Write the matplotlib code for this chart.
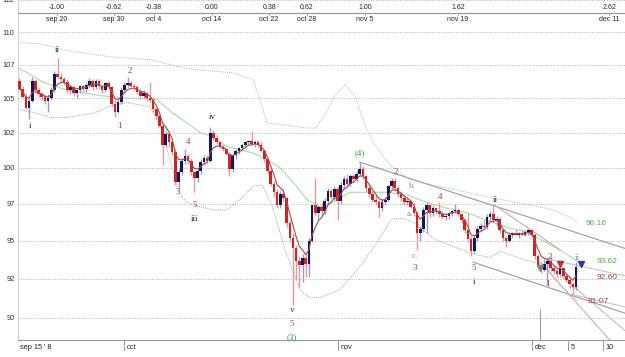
import numpy as np
import pandas as pd
import matplotlib
matplotlib.use('Agg')
import matplotlib.pyplot as plt
import matplotlib.transforms as mtransforms
from matplotlib.ticker import NullLocator

# 8-hour bars, index 0 = sep 15 '08
opens = [106.3, 105.7, 105.1, 104.3, 104.8, 106.3, 105.6, 105.3, 105.1, 104.8,
         105.0, 105.6, 106.8, 106.6, 106.4, 106.2, 105.6, 105.8, 105.4, 105.6,
         105.9, 105.7, 106.0, 106.3, 105.8, 106.3, 105.9, 105.6, 106.1, 105.8,
         104.6, 104.0, 104.7, 105.6, 106.0, 106.1, 105.9, 105.8, 105.5, 105.2,
         105.4, 105.0, 104.9, 104.2, 103.7, 103.0, 101.6, 102.4, 101.8, 101.1,
         99.0, 99.7, 100.5, 100.8, 100.5, 99.7, 99.3, 99.8, 100.4, 100.7,
         100.5, 102.5, 102.1, 101.8, 101.5, 101.3, 101.0, 99.9, 100.9, 101.2,
         101.4, 101.6, 101.8, 101.9, 101.7, 101.8, 101.6, 101.2, 100.6, 99.8,
         98.9, 98.3, 97.4, 98.2, 97.9, 96.2, 95.2, 94.5, 93.7, 93.4,
         93.9, 93.5, 95.0, 97.4, 96.9, 97.3, 97.0, 97.7, 98.4, 98.0,
         98.5, 97.7, 98.8, 99.2, 98.9, 99.4, 99.2, 99.6, 99.9, 99.4,
         98.6, 98.2, 97.8, 97.6, 97.2, 97.6, 97.8, 98.7, 99.1, 98.6,
         98.2, 97.9, 97.6, 97.7, 97.3, 96.9, 95.5, 95.8, 97.1, 97.4,
         96.9, 97.2, 97.0, 96.8, 96.6, 96.7, 96.9, 97.0, 97.1, 96.8,
         96.4, 95.7, 95.1, 94.3, 95.2, 95.8, 96.0, 95.9, 96.6, 96.8,
         96.4, 96.5, 95.7, 95.2, 95.0, 95.4, 95.5, 95.4, 95.5, 95.4,
         95.6, 95.7, 95.4, 94.0, 93.4, 93.1, 93.5, 93.7, 93.2, 93.0,
         92.8, 93.2, 92.7, 92.4, 92.2, 92.0]
highs = [106.5, 105.9, 105.3, 105.0, 106.6, 106.4, 105.8, 105.5, 105.3, 105.3,
         105.8, 107.0, 108.0, 106.9, 106.6, 106.4, 106.0, 105.9, 105.7, 106.0,
         106.0, 106.1, 106.5, 106.4, 106.4, 106.4, 106.0, 106.2, 106.3, 105.9,
         104.9, 104.9, 105.8, 106.2, 106.6, 106.3, 106.1, 106.0, 105.7, 105.6,
         105.5, 106.2, 105.0, 104.3, 103.9, 103.2, 102.6, 102.5, 101.9, 101.3,
         99.9, 100.7, 101.3, 101.0, 100.7, 99.8, 100.0, 100.6, 100.9, 100.9,
         102.9, 102.7, 102.3, 101.9, 101.7, 101.4, 101.1, 101.0, 101.3, 101.5,
         101.7, 101.9, 102.0, 102.6, 102.0, 102.0, 101.8, 101.3, 100.7, 100.0,
         99.1, 98.5, 98.4, 98.5, 98.0, 96.4, 95.5, 94.7, 94.0, 94.1,
         94.2, 95.2, 97.5, 99.3, 97.4, 97.6, 97.9, 98.6, 98.6, 98.7,
         98.7, 99.0, 99.4, 99.6, 99.6, 99.6, 99.8, 100.4, 100.1, 99.5,
         98.8, 98.4, 98.1, 97.8, 97.8, 98.0, 98.8, 99.3, 99.3, 98.7,
         98.4, 98.1, 97.9, 97.8, 97.5, 97.0, 96.0, 97.3, 97.6, 97.5,
         97.4, 97.3, 97.6, 97.0, 96.9, 97.0, 97.1, 97.5, 97.2, 96.9,
         96.5, 96.9, 95.3, 95.4, 96.0, 96.2, 96.4, 96.8, 97.0, 97.4,
         96.7, 96.6, 95.8, 95.3, 95.5, 95.6, 95.7, 95.6, 95.7, 95.7,
         95.8, 95.8, 95.5, 94.1, 93.6, 93.8, 93.9, 94.0, 93.4, 93.2,
         93.3, 93.3, 92.9, 92.6, 92.3, 93.6]
lows = [105.6, 105.0, 104.2, 103.5, 104.7, 105.5, 105.1, 104.9, 104.6, 104.0,
        104.9, 105.5, 106.4, 106.2, 106.0, 105.4, 105.3, 105.2, 105.0, 105.4,
        105.5, 105.5, 105.8, 105.6, 105.7, 105.7, 105.4, 105.5, 105.7, 104.4,
        103.6, 103.9, 104.6, 105.4, 105.8, 105.8, 105.6, 105.3, 105.0, 105.0,
        104.8, 104.7, 104.0, 103.5, 102.9, 100.2, 101.5, 101.5, 100.9, 98.8,
        98.6, 99.5, 100.3, 100.3, 99.5, 98.3, 99.0, 99.6, 100.2, 100.4,
        100.4, 102.0, 101.7, 101.4, 101.2, 100.9, 99.4, 99.7, 100.6, 101.0,
        101.2, 101.4, 101.6, 101.6, 101.5, 101.5, 101.1, 100.4, 99.6, 98.7,
        98.0, 97.2, 97.2, 97.7, 95.9, 95.0, 90.8, 92.4, 92.0, 92.3,
        92.6, 92.6, 94.9, 96.7, 96.5, 96.7, 96.8, 97.5, 97.9, 97.8,
        96.4, 97.5, 98.6, 98.7, 98.7, 99.0, 99.0, 99.4, 99.2, 98.3,
        98.0, 97.6, 97.4, 96.6, 97.0, 97.4, 97.7, 98.5, 98.4, 98.0,
        97.7, 97.4, 97.4, 97.2, 96.7, 94.4, 95.0, 95.6, 95.5, 96.6,
        96.7, 96.8, 96.6, 96.5, 96.4, 96.5, 96.7, 96.9, 96.7, 96.2,
        95.5, 94.9, 94.0, 94.2, 95.0, 95.6, 95.8, 95.8, 96.4, 96.2,
        96.0, 95.5, 95.0, 94.6, 94.9, 95.2, 95.3, 95.2, 95.3, 95.3,
        95.4, 95.3, 93.8, 93.2, 92.9, 93.0, 92.1, 93.0, 92.8, 92.6,
        92.7, 92.6, 92.3, 91.9, 91.5, 91.8]
closes = [105.7, 105.1, 104.3, 104.8, 106.3, 105.6, 105.3, 105.1, 104.8, 105.0,
          105.6, 106.8, 106.6, 106.4, 106.2, 105.6, 105.8, 105.4, 105.6, 105.9,
          105.7, 106.0, 106.3, 105.8, 106.3, 105.9, 105.6, 106.1, 105.8, 104.6,
          104.0, 104.7, 105.6, 106.0, 106.1, 105.9, 105.8, 105.5, 105.2, 105.4,
          105.0, 104.9, 104.2, 103.7, 103.0, 101.6, 102.4, 101.8, 101.1, 99.0,
          99.7, 100.5, 100.8, 100.5, 99.7, 99.3, 99.8, 100.4, 100.7, 100.5,
          102.5, 102.1, 101.8, 101.5, 101.3, 101.0, 99.9, 100.9, 101.2, 101.4,
          101.6, 101.8, 101.9, 101.7, 101.8, 101.6, 101.2, 100.6, 99.8, 98.9,
          98.3, 97.4, 98.2, 97.9, 96.2, 95.2, 94.5, 93.7, 93.4, 93.9,
          93.5, 95.0, 97.4, 96.9, 97.3, 97.0, 97.7, 98.4, 98.0, 98.5,
          97.7, 98.8, 99.2, 98.9, 99.4, 99.2, 99.6, 99.9, 99.4, 98.6,
          98.2, 97.8, 97.6, 97.2, 97.6, 97.8, 98.7, 99.1, 98.6, 98.2,
          97.9, 97.6, 97.7, 97.3, 96.9, 95.5, 95.8, 97.1, 97.4, 96.9,
          97.2, 97.0, 96.8, 96.6, 96.7, 96.9, 97.0, 97.1, 96.8, 96.4,
          95.7, 95.1, 94.3, 95.2, 95.8, 96.0, 95.9, 96.6, 96.8, 96.4,
          96.5, 95.7, 95.2, 95.0, 95.4, 95.5, 95.4, 95.5, 95.4, 95.6,
          95.7, 95.4, 94.0, 93.4, 93.1, 93.5, 93.7, 93.2, 93.0, 92.8,
          93.2, 92.7, 92.4, 92.2, 92.0, 93.3]

# envelope / average curves (bar index, price)
upper_x = [-0.5, 6.4, 14.9, 28.5, 41, 50.8, 56.8, 67.1, 73.4, 75.6, 77.8, 82.9, 88.2,
           92.9, 96.1, 99.2, 102.4, 105.5, 108.6, 111.8, 116.5, 122.8, 130, 140.7,
           148.9, 156.4, 161.5, 167.8, 174.1, 175.6]
upper_y = [109.2, 109.1, 108.6, 108.1, 107.9, 107.3, 107.1, 106.9, 106.4, 104.9, 103.2,
           103.05, 102.9, 102.8, 103.8, 105.2, 106.0, 105.2, 103.05, 101.6, 100.2, 99.15,
           98.8, 98.3, 97.9, 97.6, 97.4, 97.1, 96.5, 96.16]
slow_x = [-0.5, 7.4, 14.9, 25.3, 34.7, 43.2, 48.3, 52.7, 56.8, 60.8, 65.3, 69.3, 73.4,
          77.8, 81.9, 86, 90.4, 94.5, 98.6, 103.9, 109.3, 115.6, 121.9, 128.1, 134.4,
          140.7, 147, 153.3, 159.6, 163.7, 170, 175.6]
slow_y = [107.3, 106.2, 105.6, 105.2, 105.0, 104.9, 103.9, 103.2, 102.5, 102.2, 101.5,
          101.3, 101.05, 100.6, 100.0, 99.0, 97.8, 97.3, 97.6, 98.3, 98.3, 98.3, 98.1,
          97.6, 97.2, 96.9, 96.4, 95.9, 95.6, 95.1, 94.4, 93.62]
lower_x = [-0.5, 5.5, 9.6, 14.9, 23.1, 28.5, 33.8, 37.9, 41, 44.2, 47.3, 50.5, 52.7,
           56.8, 60.8, 65.3, 69.3, 73.4, 76.3, 79.4, 83.5, 88.2, 91.3, 94.5, 100.8,
           107, 112.4, 117.1, 121.2, 124.3, 130.7, 137.9, 143.2, 147.9, 151.1, 159.6,
           165.3, 170, 175.6]
lower_y = [104.2, 103.9, 103.6, 103.6, 103.9, 104.4, 104.7, 104.5, 104.4, 103.05,
           100.6, 98.1, 97.6, 97.3, 97.1, 97.1, 97.8, 98.7, 98.8, 97.4, 94.4, 91.8,
           91.3, 91.3, 91.8, 93.3, 94.9, 96.5, 96.5, 96.2, 95.1, 94.5, 94.1, 93.9,
           94.3, 93.7, 93.4, 92.1, 91.07]

grid_levels = [90, 92.5, 95, 97.5, 100, 102.5, 105, 107.5, 110, 112.5]
grid_labels = ['90', '92', '95', '97', '100', '102', '105', '107', '110', '112']

fib_pos = [11.8, 29.7, 42.3, 60.5, 78.5, 90.4, 108.6, 137.9, 185.4]
fib_ratio = ['-1.00', '-0.62', '-0.38', '0.00', '0.38', '0.62', '1.00', '1.62', '2.62']
fib_date = ['sep 20', 'sep 30', 'oct 4', 'oct 14', 'oct 22', 'oct 28', 'nov 5', 'nov 19', 'dec 11']

month_pos = [32.9, 100.2, 161.2, 172.5, 183.5]
month_lab = ['oct', 'nov', 'dec', '5', '10']

NAVY, RED, GREEN, GRAY = '#23236e', '#b33a3a', '#3c9c3c', '#8a8a8a'
waves = [
    ('ii', 11.8, 108.6, NAVY), ('i', 3.3, 103.0, NAVY), ('2', 34.7, 107.0, RED),
    ('1', 31.3, 103.0, RED), ('iv', 60.5, 103.6, NAVY), ('4', 53.0, 101.8, RED),
    ('3', 49.8, 98.3, RED), ('5', 55.2, 97.4, RED), ('iii', 55.2, 96.5, NAVY),
    ('v', 85.7, 90.5, NAVY), ('5', 85.7, 89.6, '#8a5050'), ('(3)', 85.7, 88.8, GREEN),
    ('(4)', 107.0, 101.0, GREEN), ('2', 118.4, 99.7, RED), ('b.', 123.4, 98.7, GRAY),
    ('1', 113.7, 97.5, RED), ('a.', 122.8, 96.8, GRAY), ('c.', 124.3, 94.0, GRAY),
    ('3', 124.3, 93.2, RED), ('4', 132.2, 98.0, RED), ('ii', 149.5, 97.8, NAVY),
    ('5', 142.9, 93.2, RED), ('i', 142.9, 92.3, NAVY), ('2', 166.8, 93.95, RED),
    ('ii', 175.3, 93.85, GRAY), ('1', 165.9, 92.2, RED),
]

trend_lines = [
    ((107.0, 190.4), (100.4, 94.5), '#9a9aaa'),
    ((142.6, 190.4), (93.6, 90.3), '#9a9aaa'),
    ((166.2, 190.4), (93.8, 92.7), '#c4c4cc'),
    ((173.7, 190.4), (91.5, 90.7), '#c4c4cc'),
    ((149.5, 170.0), (97.4, 94.4), '#d0a8a8'),
    ((163.7, 185.7), (93.6, 88.6), '#c8b0b0'),
    ((165.3, 190.4), (93.6, 89.2), '#c0c0c8'),
]

end_values = [(96.16, '96.16', '#4caf4c', 178.0), (93.62, '93.62', '#4caf4c', 181.6),
              (92.60, '92.60', '#b04040', 181.6), (91.07, '91.07', '#b04040', 178.6)]
arrow_marks = [(163.7, 93.2, '#808080'), (170.0, 93.45, '#c03030'), (176.5, 93.45, '#2a3a9a')]

plt.rcParams['font.family'] = ['Liberation Sans', 'DejaVu Sans']

fig = plt.figure(figsize=(6.25, 3.57), dpi=100)
ax = fig.add_axes([18 / 625, 17 / 357, 607 / 625, 340 / 357])
ax.set_yscale('log')
ax.set_xlim(-0.47, 190.4)
ax.set_ylim(88.62, 112.5)

for lv in grid_levels:
    ax.axhline(lv, color='#b4b4b4', lw=0.7, ls=(0, (1, 1.5)), zorder=0)

ax.yaxis.set_minor_locator(NullLocator())
ax.set_yticks(grid_levels)
ax.set_yticklabels(grid_labels)
ax.tick_params(axis='y', length=0, pad=2.5, labelsize=5.3, colors='#333333')
ax.set_xticks([])
for s in ['top', 'right']:
    ax.spines[s].set_visible(False)
ax.spines['left'].set_color('#d0d0d0')
ax.spines['left'].set_linewidth(0.7)
ax.spines['bottom'].set_color('#999999')
ax.spines['bottom'].set_linestyle((0, (1, 1)))
ax.spines['bottom'].set_linewidth(0.8)

# bands and averages
ax.plot(upper_x, upper_y, color='#9cc89c', lw=0.7, ls=(0, (1, 1.2)), zorder=1)
ax.plot(lower_x, lower_y, color='#a0a0a0', lw=0.7, ls=(0, (1, 1.2)), zorder=1)
ax.plot(slow_x, slow_y, color='#a8dca8', lw=0.8, zorder=1)

idx = np.arange(len(closes))
o = np.array(opens)
c = np.array(closes)
h = np.array(highs)
l = np.array(lows)
up = c >= o
wick_col = np.where(up, '#9a9ad0', '#e29a9a')
body_col = np.where(up, '#17174f', '#cf2424')
ax.vlines(idx, l, h, colors=wick_col, lw=1.0, zorder=2)
body_lo = np.minimum(o, c)
body_h = np.maximum(np.abs(c - o), 0.08)
ax.bar(idx, body_h, bottom=body_lo, width=0.82, color=body_col, lw=0, zorder=3)

fast = pd.Series(closes).ewm(span=5, adjust=False).mean()
ax.plot(idx, fast, color='#a54a4a', lw=0.8, zorder=4)

for (xs, ys, col) in trend_lines:
    ax.plot(xs, ys, color=col, lw=0.8, zorder=1)

for (x, y, col) in arrow_marks:
    ax.plot(x, y, marker='v', ms=4, color=col, lw=0, zorder=5)

for (t, x, y, col) in waves:
    ax.text(x, y, t, color=col, fontsize=6.5, ha='center', va='center',
            family=['Liberation Serif', 'DejaVu Serif'], zorder=6)

for (v, t, col, x) in end_values:
    ax.text(x, v, t, color=col, fontsize=6, ha='left', va='center', zorder=6)

# date marker line
ax.vlines(163.7, 88.62, 90.6, colors='#a0a0a0', lw=0.8, zorder=1)

# top fibonacci time axis
trans = mtransforms.blended_transform_factory(ax.transData, ax.transAxes)
ax.plot([0, 1], [0.9618, 0.9618], transform=ax.transAxes, color='#9a9a9a', lw=0.9, zorder=5)
for p, r, d in zip(fib_pos, fib_ratio, fib_date):
    ax.text(p, 0.979, r, transform=trans, fontsize=5, ha='center', va='center', color='#222222')
    ax.text(p, 0.944, d, transform=trans, fontsize=5, ha='center', va='center', color='#222222')
    ax.plot([p, p], [0.9618, 0.955], transform=trans, color='#9a9a9a', lw=0.6)

# bottom time axis
ax.text(0.2, -0.021, "sep 15 ' 8", transform=trans, fontsize=5.3, ha='left', va='center', color='#222222')
for p, m in zip(month_pos, month_lab):
    ax.plot([p, p], [0, -0.03], transform=trans, color='#999999', lw=0.7, clip_on=False)
    ax.text(p + 0.8, -0.021, m, transform=trans, fontsize=5.3, ha='left', va='center', color='#222222')

fig.savefig('out.png', dpi=100)
